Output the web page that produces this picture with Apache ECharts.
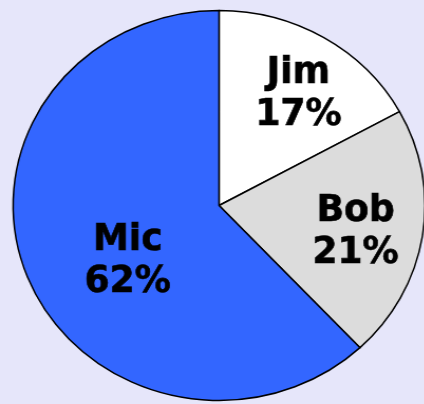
<!DOCTYPE html>
<html>
<head>
<meta charset="utf-8">
<script src="https://cdn.jsdelivr.net/npm/echarts@6/dist/echarts.min.js"></script>
<style>
  html, body { margin: 0; padding: 0; background: #e6e6fa; overflow: hidden; }
  #chart {
    position: absolute; left: 0; top: 0;
    width: 402px; height: 404px;
    transform: scaleX(1.0561);
    transform-origin: 0 0;
  }
</style>
</head>
<body>
<div id="chart"></div>
<script>
// Share of the total per person
const names = ['Jim', 'Bob', 'Mic'];
const shares = [17, 21, 62];
const colors = ['#ffffff', '#dcdcdc', '#3366ff'];

// Label nudges away from the default "inside" spot, per slice
const labelShift = [[24, -25], [30, 11], [7, 19]];

const chart = echarts.init(document.getElementById('chart'), null, { renderer: 'canvas' });

chart.setOption({
  backgroundColor: '#e6e6fa',
  animation: false,
  series: [{
    type: 'pie',
    center: [207.4, 205.5],
    radius: 195,
    startAngle: 90,
    clockwise: true,
    silent: true,
    data: names.map((n, i) => ({
      name: n,
      value: shares[i],
      itemStyle: { color: colors[i] }
    })),
    itemStyle: { borderColor: '#000000', borderWidth: 1.5 },
    label: {
      show: true,
      position: 'inside',
      formatter: '{b}\n{c}%',
      color: '#000000',
      fontFamily: '"DejaVu Sans Condensed", "DejaVu Sans"',
      fontWeight: 'bold',
      fontSize: 38,
      lineHeight: 42,
      textBorderColor: '#000000',
      textBorderWidth: 0.6
    },
    labelLine: { show: false },
    labelLayout: (p) => ({ dx: labelShift[p.dataIndex][0], dy: labelShift[p.dataIndex][1] }),
    emphasis: { disabled: true }
  }]
});
</script>
</body>
</html>
